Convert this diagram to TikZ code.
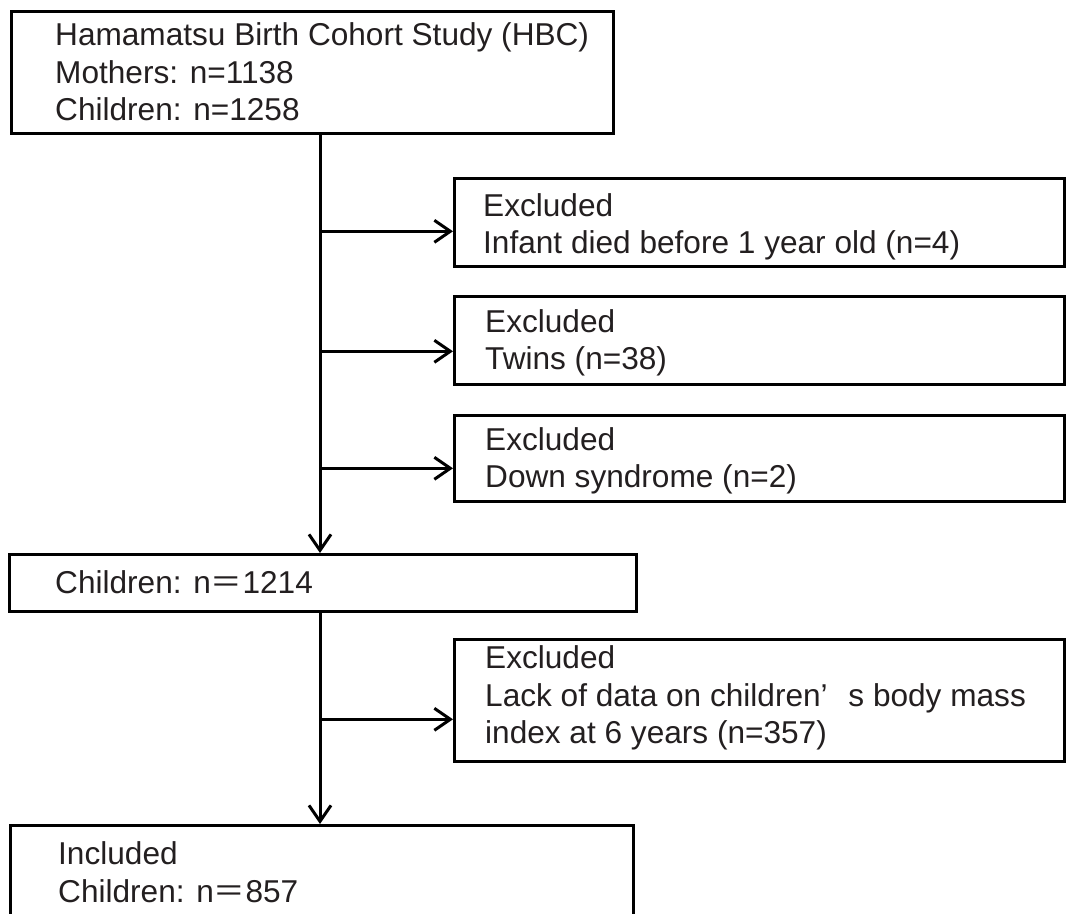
\documentclass[tikz,border=0pt]{standalone}
\usepackage{fontspec}
\setmainfont{Liberation Sans}
\newfontfamily\cjk{Noto Sans CJK JP}
\usetikzlibrary{arrows.meta,calc}
\definecolor{ink}{RGB}{35,31,32}
\begin{document}
\begin{tikzpicture}[x=1pt,y=-1pt,
  frame/.style={draw=black, line width=2.6pt, rectangle, anchor=north west, inner sep=0pt},
  txt/.style={anchor=west, align=left, inner sep=0pt, text=ink, font=\fontsize{31.6}{37.5}\selectfont},
  arr/.style={draw=black, line width=3pt, -{Straight Barb[length=16pt,width=22pt]}}]
\clip (0,0) rectangle (1068,913);
\fill[white] (0,0) rectangle (1068,913);
% boxes
\node[frame, minimum width=602pt, minimum height=122pt] (top) at (10,10) {};
\node[frame, minimum width=627pt, minimum height=57pt, line width=3pt] (mid) at (8,553) {};
\node[frame, minimum width=623pt, minimum height=200pt] (inc) at (9,824) {};
\node[frame, minimum width=610pt, minimum height=88pt] (exA) at (453,177) {};
\node[frame, minimum width=610pt, minimum height=88pt] (exB) at (453,295) {};
\node[frame, minimum width=610pt, minimum height=86pt] (exC) at (453,414) {};
\node[frame, minimum width=610pt, minimum height=122pt] (exD) at (453,638) {};
% texts
\node[txt] (topT) at (55,72) {Hamamatsu Birth Cohort Study (HBC)\\Mothers: n=1138\\Children: n=1258};
\node[txt] (midT) at (55,582) {Children: n{\cjk ＝}1214};
\node[txt] (incT) at (58,872) {Included\\Children: n{\cjk ＝}857};
\node[txt] (exAT) at (483,227) {Excluded\\Infant died before 1 year old (n=4)};
\node[txt] (exBT) at (485,343) {Excluded\\Twins (n=38)};
\node[txt] (exCT) at (485,461) {Excluded\\Down syndrome (n=2)};
\node[txt] (exDT) at (485,698) {Excluded\\Lack of data on children’\hspace{12pt} s body mass\\index at 6 years (n=357)};
% connectors
\coordinate (trunk) at (320,0);
\draw[arr] (top.south -| trunk) -- (mid.north -| trunk);
\draw[arr] (mid.south -| trunk) -- (inc.north -| trunk);
\coordinate (aA) at ([yshift=-9pt]exA.west);
\coordinate (aB) at ([yshift=-11pt]exB.west);
\coordinate (aC) at ([yshift=-10pt]exC.west);
\coordinate (aD) at ([yshift=-19pt]exD.west);
\draw[arr] (aA -| trunk) -- (aA);
\draw[arr] (aB -| trunk) -- (aB);
\draw[arr] (aC -| trunk) -- (aC);
\draw[arr] (aD -| trunk) -- (aD);
\end{tikzpicture}
\end{document}
